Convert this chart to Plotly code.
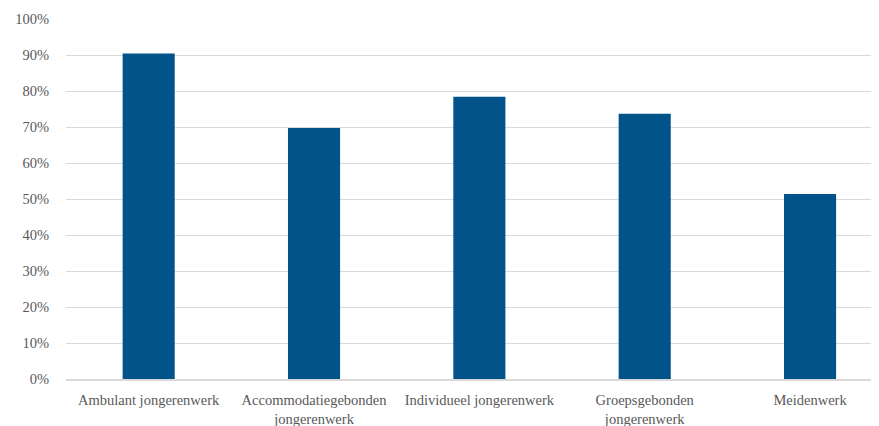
import plotly.graph_objects as go

categories = ["Ambulant jongerenwerk", "Accommodatiegebonden<br>jongerenwerk",
              "Individueel jongerenwerk", "Groepsgebonden<br>jongerenwerk", "Meidenwerk"]
values = [0.904, 0.697, 0.784, 0.737, 0.514]
tick_vals = [i / 10 for i in range(11)]
tick_text = [f"{i*10}%" for i in range(11)]

fig = go.Figure(go.Bar(x=categories, y=values, marker=dict(color="#01538A", line=dict(width=0)),
                       width=0.315))
font = dict(family="Liberation Serif", size=14.5, color="#595959")
# page body has 8px default margin; figure sized to fill the remaining window
fig.update_layout(
    width=871, height=418,
    margin=dict(l=58, r=0, t=11, b=47),
    plot_bgcolor="white", paper_bgcolor="white",
    font=font, showlegend=False,
)
fig.update_yaxes(range=[0, 1], tickvals=tick_vals, ticktext=tick_text,
                 showgrid=True, gridcolor="#d9d9d9", gridwidth=1, automargin=False,
                 zeroline=False, showline=False, ticks="", ticklabelstandoff=16)
fig.update_xaxes(range=[-0.5, 4.417], showline=True, linecolor="#d9d9d9", linewidth=1.5,
                 ticks="", automargin=False, tickangle=0, ticklabelstandoff=7)
fig.write_html("out.html")
